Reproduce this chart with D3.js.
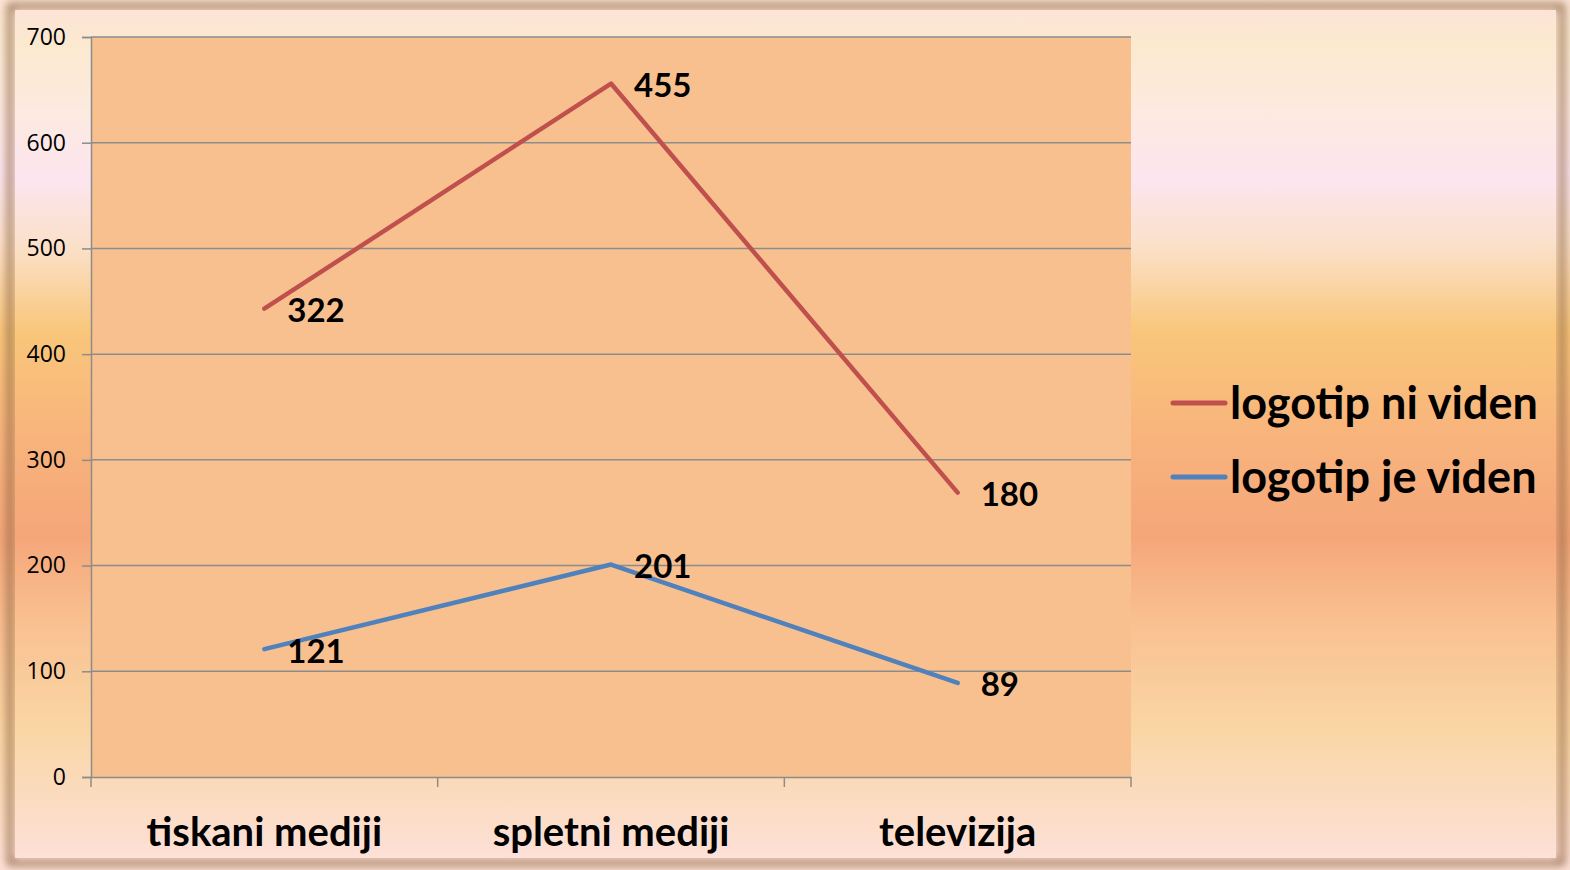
<!DOCTYPE html>
<html>
<head>
<meta charset="utf-8">
<script src="https://cdn.jsdelivr.net/npm/d3@7"></script>
<style>
html,body{margin:0;padding:0;overflow:hidden;}
svg{display:block;}
</style>
</head>
<body>
<svg id="chart" width="1570" height="870"></svg>
<script>
const categories = ["tiskani mediji", "spletni mediji", "televizija"];
const seriesNames = ["logotip je viden", "logotip ni viden"];
const jeViden = [121, 201, 89];
const niViden = [322, 455, 180];
const yTicks = [0, 100, 200, 300, 400, 500, 600, 700];
const colors = {"logotip je viden": "#4f81bd", "logotip ni viden": "#c0504d"};

const svg = d3.select("#chart");
const W = 1570, H = 870;
const defs = svg.append("defs");

const bgStops = [
  [0, "#fde4d6"], [0.04, "#fbe9cf"], [0.12, "#fdeae0"], [0.2, "#fce5ef"], [0.28, "#fbe0c8"],
  [0.38, "#f9c67a"], [0.5, "#f8b47c"], [0.62, "#f5a679"], [0.72, "#f9c090"],
  [0.85, "#fad6a5"], [1, "#fde0d8"]
];
const g1 = defs.append("linearGradient").attr("id", "bg").attr("x1", 0).attr("y1", 0).attr("x2", 0).attr("y2", 1);
bgStops.forEach(s => g1.append("stop").attr("offset", s[0]).attr("stop-color", s[1]));

const f = defs.append("filter").attr("id", "blur").attr("x", "-5%").attr("y", "-5%").attr("width", "110%").attr("height", "110%");
f.append("feGaussianBlur").attr("stdDeviation", 4);

svg.append("rect").attr("width", W).attr("height", H).attr("fill", "url(#bg)");
// panel shadow edges
svg.append("rect").attr("x", 10).attr("y", 6).attr("width", 1552).attr("height", 857)
  .attr("fill", "none").attr("stroke", "#8a6040").attr("stroke-opacity", 0.8).attr("stroke-width", 6).attr("filter", "url(#blur)");
svg.append("rect").attr("x", 15).attr("y", 10).attr("width", 1541).attr("height", 848).attr("fill", "url(#bg)");

const margin = {left: 91, top: 37, right: 1131, bottom: 777};
const x = d3.scaleBand().domain(categories).range([margin.left, margin.right]).padding(0);
const y = d3.scaleLinear().domain([0, 700]).range([margin.bottom, margin.top]);

svg.append("rect").attr("x", margin.left).attr("y", margin.top)
  .attr("width", margin.right - margin.left).attr("height", margin.bottom - margin.top)
  .attr("fill", "#f9c08f");

// gridlines
svg.append("g").selectAll("line").data(yTicks.filter(d => d > 0)).join("line")
  .attr("x1", margin.left).attr("x2", margin.right)
  .attr("y1", d => y(d)).attr("y2", d => y(d))
  .attr("stroke", "#8c8c8c").attr("stroke-width", 1.5);

// y axis
const yAxis = svg.append("g").attr("transform", `translate(${margin.left},0)`)
  .call(d3.axisLeft(y).tickValues(yTicks).tickSize(9).tickPadding(16));
yAxis.select(".domain").attr("stroke", "#8c8c8c").attr("stroke-width", 1.5);
yAxis.selectAll(".tick line").attr("stroke", "#8c8c8c").attr("stroke-width", 1.5);
yAxis.selectAll(".tick text").attr("font-family", "Open Sans").attr("font-size", 23).attr("fill", "#000");

// x axis
const xAxis = svg.append("g").attr("transform", `translate(0,${margin.bottom})`)
  .call(d3.axisBottom(x).tickSize(0).tickPadding(41));
xAxis.select(".domain").attr("stroke", "#8c8c8c").attr("stroke-width", 1.5);
xAxis.selectAll(".tick text").attr("font-family", "Lato").attr("font-weight", "bold").attr("font-size", 40).attr("fill", "#000");
const bounds = [...categories.map(c => x(c)), margin.right];
svg.append("g").selectAll("line").data(bounds).join("line")
  .attr("x1", d => d).attr("x2", d => d).attr("y1", margin.bottom).attr("y2", margin.bottom + 10)
  .attr("stroke", "#8c8c8c").attr("stroke-width", 1.5);

// stacked data
const rows = categories.map((c, i) => ({cat: c, "logotip je viden": jeViden[i], "logotip ni viden": niViden[i]}));
const stack = d3.stack().keys(seriesNames)(rows);
const cx = c => x(c) + x.bandwidth() / 2;
const line = d3.line().x(d => cx(d.data.cat)).y(d => y(d[1]));

stack.forEach(s => {
  svg.append("path").datum(s).attr("d", line).attr("fill", "none")
    .attr("stroke", colors[s.key]).attr("stroke-width", 4.5).attr("stroke-linecap", "round").attr("stroke-linejoin", "round");
  svg.append("g").selectAll("text").data(s).join("text")
    .attr("x", d => cx(d.data.cat) + 23).attr("y", d => y(d[1]) + 5)
    .attr("dominant-baseline", "middle")
    .attr("font-family", "Lato").attr("font-weight", "bold").attr("font-size", 33).attr("fill", "#000")
    .text(d => d.data[s.key]);
});

// legend
const legendItems = ["logotip ni viden", "logotip je viden"];
const lg = svg.append("g").selectAll("g").data(legendItems).join("g")
  .attr("transform", (d, i) => `translate(1173,${403 + i * 74})`);
lg.append("line").attr("x1", 0).attr("x2", 52).attr("y1", 0).attr("y2", 0)
  .attr("stroke", d => colors[d]).attr("stroke-width", 5).attr("stroke-linecap", "round");
lg.append("text").attr("x", 57).attr("y", 4).attr("dominant-baseline", "middle")
  .attr("font-family", "Lato").attr("font-weight", "bold").attr("font-size", 45).attr("fill", "#000")
  .text(d => d);
</script>
</body>
</html>
